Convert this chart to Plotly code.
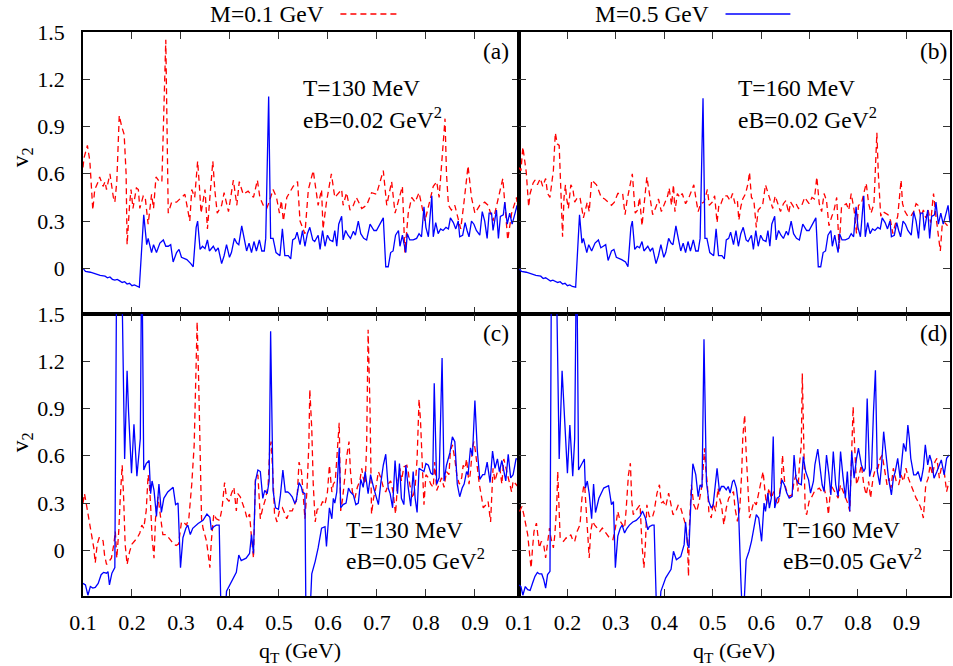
import plotly.graph_objects as go

# ---------------- data (qT in GeV, v2) ----------------
a_m01 = [(0.100,0.64),(0.102,0.70),(0.109,0.78),(0.114,0.68),(0.120,0.37),(0.124,0.50),(0.131,0.55),(0.134,0.58),(0.141,0.52),(0.145,0.55),(0.148,0.50),(0.155,0.60),(0.162,0.45),(0.165,0.42),(0.169,0.55),(0.174,0.97),(0.179,0.90),(0.184,0.85),(0.188,0.60),(0.190,0.15),(0.195,0.40),(0.198,0.50),(0.202,0.38),(0.205,0.45),(0.209,0.51),(0.213,0.50),(0.216,0.38),(0.223,0.46),(0.227,0.45),(0.233,0.28),(0.240,0.47),(0.244,0.38),(0.249,0.58),(0.256,0.55),(0.261,0.55),(0.269,1.45),(0.271,0.90),(0.274,0.35),(0.281,0.42),(0.291,0.42),(0.301,0.45),(0.308,0.47),(0.318,0.30),(0.322,0.50),(0.328,0.45),(0.334,0.68),(0.337,0.55),(0.341,0.35),(0.349,0.50),(0.354,0.25),(0.359,0.45),(0.365,0.68),(0.369,0.50),(0.374,0.35),(0.383,0.40),(0.388,0.48),(0.397,0.36),(0.407,0.56),(0.414,0.40),(0.419,0.55),(0.427,0.47),(0.437,0.49),(0.448,0.45),(0.456,0.56),(0.461,0.45),(0.468,0.40),(0.475,0.38),(0.480,0.42),(0.488,0.50),(0.495,0.45),(0.501,0.35),(0.505,0.43),(0.509,0.30),(0.516,0.45),(0.529,0.52),(0.538,0.55),(0.543,0.30),(0.553,0.22),(0.560,0.50),(0.570,0.62),(0.580,0.40),(0.587,0.50),(0.590,0.25),(0.597,0.42),(0.607,0.60),(0.614,0.45),(0.628,0.50),(0.631,0.40),(0.638,0.48),(0.645,0.37),(0.652,0.40),(0.658,0.45),(0.669,0.38),(0.679,0.40),(0.689,0.48),(0.699,0.47),(0.713,0.62),(0.720,0.40),(0.730,0.55),(0.737,0.35),(0.752,0.52),(0.757,0.10),(0.764,0.35),(0.771,0.45),(0.778,0.42),(0.786,0.48),(0.798,0.30),(0.815,0.52),(0.822,0.55),(0.827,0.45),(0.839,0.95),(0.842,0.60),(0.846,0.40),(0.852,0.37),(0.859,0.40),(0.871,0.25),(0.877,0.40),(0.886,0.65),(0.893,0.45),(0.900,0.35),(0.910,0.40),(0.920,0.42),(0.927,0.40),(0.937,0.30),(0.957,0.57),(0.961,0.40),(0.967,0.18),(0.975,0.35),(0.985,0.45),(0.991,0.30)]

a_m05 = [(0.100,0.0),(0.105,-0.02),(0.115,-0.025),(0.125,-0.035),(0.135,-0.045),(0.145,-0.05),(0.150,-0.06),(0.155,-0.055),(0.160,-0.07),(0.165,-0.075),(0.170,-0.07),(0.175,-0.08),(0.180,-0.09),(0.185,-0.085),(0.190,-0.10),(0.195,-0.095),(0.200,-0.11),(0.205,-0.105),(0.210,-0.115),(0.215,-0.12),(0.224,0.34),(0.230,0.15),(0.233,0.19),(0.240,0.10),(0.244,0.15),(0.250,0.10),(0.257,0.16),(0.264,0.18),(0.269,0.14),(0.274,0.14),(0.279,0.15),(0.284,0.04),(0.291,0.10),(0.296,0.12),(0.301,0.07),(0.312,0.055),(0.320,0.03),(0.325,0.01),(0.331,0.26),(0.334,0.30),(0.339,0.12),(0.344,0.14),(0.349,0.125),(0.354,0.18),(0.358,0.11),(0.366,0.14),(0.371,0.11),(0.376,0.13),(0.383,0.03),(0.388,0.08),(0.393,0.15),(0.399,0.07),(0.403,0.10),(0.409,0.19),(0.414,0.16),(0.418,0.15),(0.424,0.27),(0.427,0.22),(0.434,0.11),(0.439,0.16),(0.444,0.10),(0.449,0.17),(0.454,0.11),(0.460,0.18),(0.465,0.11),(0.470,0.11),(0.473,0.19),(0.479,1.09),(0.483,0.19),(0.488,0.19),(0.494,0.10),(0.502,0.08),(0.507,0.25),(0.512,0.08),(0.519,0.08),(0.524,0.06),(0.528,0.18),(0.533,0.19),(0.537,0.23),(0.543,0.15),(0.548,0.24),(0.553,0.14),(0.558,0.22),(0.563,0.26),(0.569,0.18),(0.573,0.17),(0.580,0.21),(0.584,0.12),(0.589,0.24),(0.594,0.14),(0.599,0.21),(0.604,0.18),(0.610,0.17),(0.614,0.24),(0.618,0.14),(0.622,0.28),(0.628,0.33),(0.631,0.18),(0.636,0.24),(0.641,0.21),(0.646,0.19),(0.652,0.235),(0.656,0.21),(0.662,0.30),(0.667,0.22),(0.673,0.19),(0.679,0.18),(0.686,0.28),(0.694,0.24),(0.699,0.24),(0.706,0.28),(0.713,0.32),(0.718,0.01),(0.723,0.01),(0.728,0.10),(0.733,0.11),(0.738,0.21),(0.744,0.24),(0.747,0.14),(0.752,0.21),(0.755,0.16),(0.759,0.10),(0.762,0.22),(0.767,0.18),(0.774,0.18),(0.781,0.19),(0.786,0.22),(0.791,0.20),(0.796,0.39),(0.800,0.26),(0.805,0.20),(0.812,0.46),(0.815,0.20),(0.820,0.29),(0.825,0.22),(0.830,0.25),(0.835,0.24),(0.841,0.26),(0.846,0.25),(0.850,0.32),(0.856,0.29),(0.861,0.25),(0.866,0.30),(0.869,0.20),(0.875,0.21),(0.880,0.29),(0.884,0.24),(0.888,0.20),(0.893,0.30),(0.898,0.28),(0.903,0.24),(0.910,0.21),(0.915,0.36),(0.920,0.30),(0.925,0.19),(0.929,0.35),(0.934,0.35),(0.937,0.24),(0.944,0.37),(0.948,0.19),(0.952,0.33),(0.958,0.34),(0.961,0.42),(0.966,0.28),(0.971,0.35),(0.976,0.28),(0.982,0.35),(0.986,0.40),(0.990,0.29)]

b_m01 = [(0.100,0.64),(0.104,0.62),(0.108,0.77),(0.111,0.70),(0.115,0.61),(0.120,0.39),(0.123,0.475),(0.129,0.54),(0.133,0.56),(0.138,0.53),(0.144,0.57),(0.149,0.52),(0.155,0.57),(0.159,0.475),(0.164,0.45),(0.168,0.55),(0.171,0.62),(0.175,0.86),(0.179,0.79),(0.183,0.78),(0.186,0.54),(0.188,0.37),(0.190,0.20),(0.193,0.45),(0.196,0.53),(0.198,0.45),(0.202,0.38),(0.207,0.53),(0.211,0.51),(0.215,0.42),(0.221,0.45),(0.226,0.45),(0.229,0.39),(0.233,0.32),(0.237,0.37),(0.241,0.42),(0.245,0.36),(0.250,0.56),(0.260,0.53),(0.270,0.45),(0.277,0.44),(0.291,0.40),(0.297,0.42),(0.304,0.475),(0.314,0.475),(0.319,0.34),(0.323,0.43),(0.328,0.50),(0.334,0.60),(0.336,0.52),(0.340,0.35),(0.345,0.37),(0.349,0.45),(0.354,0.27),(0.359,0.43),(0.364,0.58),(0.368,0.50),(0.373,0.39),(0.376,0.34),(0.383,0.39),(0.388,0.44),(0.394,0.36),(0.400,0.41),(0.407,0.46),(0.410,0.51),(0.415,0.40),(0.419,0.53),(0.422,0.36),(0.427,0.475),(0.432,0.45),(0.437,0.475),(0.444,0.41),(0.451,0.45),(0.457,0.50),(0.461,0.53),(0.466,0.43),(0.470,0.36),(0.475,0.41),(0.482,0.42),(0.489,0.50),(0.493,0.40),(0.499,0.42),(0.504,0.46),(0.509,0.29),(0.513,0.41),(0.517,0.41),(0.523,0.46),(0.530,0.46),(0.536,0.43),(0.541,0.475),(0.546,0.41),(0.551,0.43),(0.554,0.305),(0.558,0.39),(0.562,0.44),(0.568,0.475),(0.573,0.54),(0.576,0.61),(0.580,0.45),(0.585,0.43),(0.590,0.26),(0.594,0.37),(0.599,0.39),(0.603,0.40),(0.609,0.53),(0.614,0.475),(0.619,0.43),(0.624,0.38),(0.629,0.46),(0.635,0.41),(0.640,0.36),(0.646,0.41),(0.651,0.43),(0.657,0.35),(0.661,0.42),(0.667,0.39),(0.672,0.41),(0.677,0.38),(0.684,0.40),(0.690,0.45),(0.694,0.43),(0.699,0.41),(0.705,0.45),(0.710,0.44),(0.715,0.58),(0.720,0.41),(0.725,0.36),(0.730,0.475),(0.735,0.43),(0.740,0.27),(0.746,0.33),(0.750,0.36),(0.756,0.45),(0.761,0.125),(0.766,0.39),(0.771,0.40),(0.776,0.41),(0.781,0.37),(0.786,0.475),(0.792,0.37),(0.797,0.22),(0.801,0.40),(0.807,0.41),(0.812,0.475),(0.817,0.54),(0.822,0.41),(0.827,0.35),(0.833,0.41),(0.839,0.86),(0.842,0.60),(0.847,0.33),(0.851,0.36),(0.856,0.35),(0.862,0.34),(0.867,0.305),(0.872,0.22),(0.877,0.28),(0.882,0.33),(0.889,0.56),(0.892,0.41),(0.897,0.36),(0.903,0.33),(0.909,0.33),(0.915,0.36),(0.920,0.41),(0.924,0.40),(0.930,0.33),(0.935,0.37),(0.940,0.32),(0.945,0.37),(0.950,0.29),(0.956,0.475),(0.961,0.33),(0.965,0.22),(0.970,0.11),(0.974,0.28),(0.979,0.29),(0.985,0.27)]

b_m05 = [(0.100,0.0),(0.105,-0.02),(0.115,-0.025),(0.125,-0.035),(0.135,-0.045),(0.145,-0.05),(0.150,-0.065),(0.155,-0.06),(0.160,-0.07),(0.165,-0.08),(0.170,-0.075),(0.175,-0.085),(0.180,-0.09),(0.185,-0.085),(0.190,-0.10),(0.195,-0.095),(0.200,-0.11),(0.205,-0.105),(0.210,-0.115),(0.217,-0.12),(0.225,0.34),(0.230,0.16),(0.233,0.19),(0.240,0.10),(0.244,0.15),(0.250,0.11),(0.257,0.16),(0.264,0.18),(0.269,0.13),(0.274,0.14),(0.279,0.15),(0.284,0.05),(0.291,0.11),(0.296,0.12),(0.301,0.07),(0.312,0.055),(0.320,0.04),(0.325,0.01),(0.331,0.26),(0.334,0.30),(0.339,0.12),(0.344,0.14),(0.349,0.13),(0.354,0.17),(0.358,0.11),(0.366,0.14),(0.371,0.11),(0.376,0.13),(0.383,0.03),(0.388,0.08),(0.393,0.15),(0.399,0.07),(0.403,0.10),(0.409,0.19),(0.414,0.16),(0.418,0.15),(0.424,0.27),(0.427,0.22),(0.434,0.11),(0.439,0.16),(0.444,0.10),(0.449,0.17),(0.454,0.11),(0.460,0.18),(0.465,0.11),(0.470,0.11),(0.474,0.19),(0.480,1.08),(0.484,0.19),(0.488,0.19),(0.494,0.10),(0.502,0.08),(0.507,0.25),(0.512,0.08),(0.519,0.08),(0.524,0.06),(0.528,0.18),(0.533,0.19),(0.537,0.23),(0.543,0.15),(0.548,0.24),(0.553,0.14),(0.558,0.22),(0.563,0.26),(0.569,0.18),(0.573,0.17),(0.580,0.21),(0.584,0.12),(0.589,0.24),(0.594,0.14),(0.599,0.21),(0.604,0.18),(0.610,0.17),(0.614,0.24),(0.618,0.14),(0.622,0.28),(0.628,0.33),(0.631,0.18),(0.636,0.24),(0.641,0.21),(0.646,0.19),(0.652,0.235),(0.656,0.21),(0.662,0.30),(0.667,0.22),(0.673,0.19),(0.679,0.18),(0.686,0.28),(0.694,0.24),(0.699,0.24),(0.706,0.28),(0.713,0.32),(0.718,0.01),(0.723,0.01),(0.728,0.10),(0.733,0.11),(0.738,0.21),(0.744,0.24),(0.747,0.14),(0.752,0.21),(0.755,0.16),(0.759,0.10),(0.762,0.22),(0.767,0.18),(0.774,0.18),(0.781,0.19),(0.786,0.22),(0.791,0.20),(0.796,0.39),(0.800,0.26),(0.805,0.20),(0.812,0.46),(0.815,0.20),(0.820,0.29),(0.825,0.22),(0.830,0.25),(0.835,0.24),(0.841,0.26),(0.846,0.25),(0.850,0.32),(0.856,0.29),(0.861,0.25),(0.866,0.30),(0.869,0.20),(0.875,0.21),(0.880,0.29),(0.884,0.24),(0.888,0.20),(0.893,0.30),(0.898,0.28),(0.903,0.24),(0.910,0.21),(0.915,0.36),(0.920,0.30),(0.925,0.19),(0.929,0.35),(0.934,0.35),(0.937,0.24),(0.944,0.37),(0.948,0.19),(0.952,0.33),(0.958,0.34),(0.961,0.42),(0.966,0.28),(0.971,0.35),(0.976,0.28),(0.982,0.35),(0.986,0.40),(0.990,0.29)]

c_m01 = [(0.100,0.30),(0.103,0.36),(0.107,0.29),(0.110,0.23),(0.115,0.14),(0.119,0.08),(0.122,0.015),(0.125,-0.08),(0.129,0.04),(0.133,0.08),(0.137,0.08),(0.141,0.06),(0.144,-0.03),(0.148,-0.09),(0.153,-0.07),(0.158,-0.05),(0.163,0.04),(0.166,0.12),(0.169,-0.05),(0.173,0.12),(0.176,0.33),(0.180,0.54),(0.183,0.33),(0.186,0.04),(0.190,-0.09),(0.195,-0.01),(0.200,0.04),(0.205,0.06),(0.211,0.08),(0.216,0.11),(0.220,0.16),(0.224,0.14),(0.229,0.25),(0.233,0.48),(0.235,0.44),(0.238,0.29),(0.241,0.08),(0.245,-0.05),(0.248,0.20),(0.253,0.34),(0.258,0.20),(0.263,0.10),(0.270,0.10),(0.276,0.08),(0.280,0.06),(0.285,0.04),(0.290,0.03),(0.295,0.04),(0.301,0.18),(0.305,0.18),(0.311,0.16),(0.316,0.20),(0.319,0.29),(0.322,0.42),(0.327,0.67),(0.330,1.09),(0.333,1.45),(0.336,1.09),(0.338,0.77),(0.339,0.46),(0.342,0.20),(0.345,0.14),(0.348,0.11),(0.352,0.06),(0.355,-0.01),(0.359,-0.11),(0.362,0.06),(0.367,0.23),(0.372,0.20),(0.379,0.19),(0.384,0.27),(0.389,0.43),(0.393,0.33),(0.398,0.31),(0.403,0.36),(0.408,0.40),(0.413,0.25),(0.416,0.36),(0.421,0.34),(0.427,0.29),(0.431,0.25),(0.435,0.20),(0.440,0.23),(0.444,0.08),(0.448,-0.05),(0.452,0.46),(0.457,0.48),(0.462,0.20),(0.467,0.27),(0.473,0.33),(0.478,0.42),(0.481,0.63),(0.484,0.69),(0.488,0.46),(0.491,0.23),(0.496,0.18),(0.501,0.25),(0.507,0.27),(0.512,0.23),(0.516,0.20),(0.522,0.25),(0.527,0.25),(0.532,0.29),(0.537,0.33),(0.541,0.56),(0.546,0.50),(0.550,0.33),(0.553,0.20),(0.557,0.37),(0.561,0.67),(0.563,1.02),(0.567,0.77),(0.570,0.42),(0.574,0.18),(0.578,0.26),(0.584,0.27),(0.589,0.31),(0.594,0.29),(0.599,0.37),(0.603,0.54),(0.608,0.37),(0.611,0.42),(0.615,0.44),(0.619,0.60),(0.623,0.81),(0.626,0.25),(0.630,0.33),(0.635,0.48),(0.638,0.59),(0.643,0.69),(0.646,0.50),(0.650,0.37),(0.655,0.33),(0.660,0.40),(0.665,0.44),(0.669,0.52),(0.672,0.46),(0.676,0.42),(0.679,0.67),(0.682,1.40),(0.686,0.88),(0.689,0.23),(0.693,0.33),(0.698,0.40),(0.703,0.50),(0.708,0.46),(0.713,0.40),(0.718,0.37),(0.723,0.42),(0.728,0.44),(0.733,0.37),(0.738,0.23),(0.742,0.42),(0.747,0.52),(0.750,0.44),(0.755,0.53),(0.761,0.54),(0.764,0.50),(0.767,0.42),(0.773,0.33),(0.778,0.40),(0.782,0.58),(0.786,0.96),(0.789,0.82),(0.793,0.52),(0.796,0.29),(0.800,0.48),(0.805,0.46),(0.810,0.42),(0.815,0.40),(0.818,0.56),(0.822,0.38),(0.827,0.42),(0.832,0.46),(0.837,0.40),(0.842,0.50),(0.847,0.48),(0.850,0.63),(0.854,0.67),(0.859,0.58),(0.863,0.48),(0.868,0.42),(0.873,0.46),(0.876,0.54),(0.880,0.52),(0.883,0.58),(0.888,0.42),(0.891,0.50),(0.895,0.65),(0.898,0.69),(0.901,0.63),(0.905,0.52),(0.909,0.42),(0.914,0.33),(0.917,0.27),(0.923,0.29),(0.927,0.31),(0.932,0.18),(0.937,0.52),(0.941,0.44),(0.946,0.50),(0.951,0.52),(0.955,0.42),(0.959,0.58),(0.965,0.50),(0.970,0.42),(0.975,0.37),(0.978,0.44),(0.984,0.42),(0.989,0.40),(0.992,0.44)]

c_m05 = [(0.100,-0.21),(0.105,-0.22),(0.110,-0.285),(0.115,-0.23),(0.120,-0.24),(0.125,-0.235),(0.131,-0.21),(0.137,-0.155),(0.142,-0.14),(0.148,-0.145),(0.151,-0.135),(0.154,-0.22),(0.159,-0.145),(0.163,-0.12),(0.165,-0.11),(0.170,2.5),(0.176,2.4),(0.185,0.58),(0.190,1.14),(0.193,0.88),(0.199,0.49),(0.204,0.80),(0.210,0.47),(0.217,0.71),(0.220,2.0),(0.224,0.51),(0.229,0.55),(0.235,0.57),(0.238,0.36),(0.241,0.44),(0.245,0.38),(0.250,0.215),(0.255,0.42),(0.260,0.24),(0.265,0.33),(0.273,0.37),(0.284,0.40),(0.289,0.29),(0.294,0.30),(0.299,-0.11),(0.304,0.08),(0.310,0.14),(0.314,0.16),(0.319,0.10),(0.324,0.14),(0.335,0.17),(0.345,0.19),(0.353,0.23),(0.359,0.21),(0.362,0.13),(0.367,0.15),(0.372,0.16),(0.378,0.16),(0.381,-0.3),(0.386,-0.6),(0.393,-0.26),(0.403,-0.20),(0.413,-0.14),(0.418,-0.03),(0.423,-0.065),(0.433,-0.05),(0.440,-0.02),(0.444,0.10),(0.448,-0.02),(0.452,0.44),(0.457,0.51),(0.462,0.50),(0.467,0.33),(0.471,0.38),(0.476,0.36),(0.480,0.44),(0.483,1.39),(0.488,0.38),(0.493,0.27),(0.499,0.26),(0.503,0.35),(0.508,0.51),(0.513,0.37),(0.518,0.37),(0.522,0.36),(0.527,0.34),(0.532,0.30),(0.535,0.31),(0.541,0.43),(0.546,0.40),(0.548,0.37),(0.553,0.36),(0.555,-0.4),(0.562,-0.5),(0.567,-0.15),(0.574,-0.07),(0.580,0.015),(0.587,0.14),(0.594,0.15),(0.597,0.025),(0.603,0.27),(0.608,0.20),(0.611,0.33),(0.614,0.30),(0.618,0.37),(0.623,0.65),(0.626,0.27),(0.631,0.29),(0.637,0.30),(0.642,0.395),(0.646,0.37),(0.652,0.35),(0.657,0.29),(0.662,0.30),(0.667,0.45),(0.672,0.40),(0.676,0.50),(0.682,0.36),(0.687,0.48),(0.693,0.40),(0.698,0.34),(0.703,0.29),(0.708,0.43),(0.713,0.54),(0.718,0.61),(0.723,0.395),(0.727,0.36),(0.732,0.27),(0.737,0.57),(0.742,0.36),(0.746,0.55),(0.750,0.33),(0.755,0.29),(0.759,0.54),(0.764,0.395),(0.769,0.28),(0.774,0.50),(0.778,0.33),(0.782,0.24),(0.786,0.52),(0.791,0.51),(0.796,0.50),(0.800,0.55),(0.805,0.54),(0.810,0.49),(0.814,0.48),(0.817,1.06),(0.822,0.42),(0.827,0.46),(0.833,1.22),(0.837,0.44),(0.842,0.54),(0.849,0.62),(0.854,0.72),(0.859,0.69),(0.864,0.42),(0.869,0.34),(0.874,0.395),(0.878,0.42),(0.883,0.50),(0.886,0.48),(0.891,0.65),(0.895,0.60),(0.900,0.95),(0.905,0.63),(0.910,0.45),(0.916,0.48),(0.920,0.48),(0.925,0.56),(0.931,0.43),(0.936,0.63),(0.941,0.52),(0.946,0.58),(0.950,0.50),(0.955,0.57),(0.959,0.50),(0.963,0.44),(0.968,0.61),(0.973,0.46),(0.978,0.48),(0.984,0.58),(0.989,0.58),(0.992,0.54)]

d_m01 = [(0.101,0.247),(0.106,0.278),(0.110,0.226),(0.114,0.162),(0.118,0.099),(0.122,-0.027),(0.125,-0.112),(0.128,0.015),(0.131,0.12),(0.136,0.173),(0.139,0.099),(0.142,0.015),(0.146,0.057),(0.151,0.036),(0.155,-0.049),(0.159,0.036),(0.163,0.141),(0.166,0.078),(0.171,0.015),(0.174,0.099),(0.178,0.289),(0.180,0.50),(0.183,0.247),(0.185,0.078),(0.192,0.057),(0.197,0.078),(0.202,0.078),(0.207,0.099),(0.212,0.057),(0.215,0.057),(0.220,0.12),(0.226,0.162),(0.230,0.331),(0.234,0.416),(0.236,0.395),(0.239,0.247),(0.243,-0.006),(0.245,-0.049),(0.248,0.12),(0.252,0.184),(0.256,0.162),(0.261,0.141),(0.267,0.12),(0.272,0.141),(0.277,0.12),(0.282,0.099),(0.287,0.078),(0.294,0.068),(0.299,0.141),(0.304,0.247),(0.309,0.184),(0.314,0.162),(0.318,0.141),(0.321,0.247),(0.326,0.479),(0.330,0.553),(0.333,0.31),(0.336,0.226),(0.340,0.247),(0.345,0.268),(0.350,0.289),(0.354,0.036),(0.358,-0.112),(0.361,0.036),(0.364,0.289),(0.369,0.215),(0.375,0.205),(0.379,0.247),(0.385,0.363),(0.390,0.416),(0.394,0.30),(0.398,0.31),(0.403,0.278),(0.409,0.363),(0.414,0.289),(0.418,0.226),(0.424,0.247),(0.429,0.289),(0.434,0.268),(0.439,0.205),(0.444,0.162),(0.448,0.036),(0.450,-0.165),(0.452,0.162),(0.456,0.416),(0.461,0.289),(0.467,0.247),(0.472,0.31),(0.475,0.363),(0.478,0.416),(0.483,0.648),(0.485,0.542),(0.489,0.416),(0.492,0.247),(0.497,0.205),(0.501,0.30),(0.506,0.247),(0.511,0.395),(0.514,0.331),(0.518,0.289),(0.523,0.162),(0.528,0.268),(0.533,0.331),(0.539,0.352),(0.543,0.373),(0.546,0.268),(0.551,0.184),(0.556,0.268),(0.560,0.50),(0.562,0.711),(0.566,0.859),(0.569,0.627),(0.573,0.331),(0.576,0.205),(0.580,0.247),(0.585,0.31),(0.590,0.289),(0.595,0.363),(0.600,0.437),(0.604,0.50),(0.608,0.373),(0.611,0.289),(0.616,0.395),(0.621,0.331),(0.626,0.373),(0.631,0.289),(0.636,0.31),(0.642,0.458),(0.644,0.605),(0.649,0.416),(0.653,0.373),(0.658,0.342),(0.664,0.352),(0.668,0.437),(0.672,0.479),(0.676,0.373),(0.679,0.542),(0.683,0.669),(0.685,1.122),(0.688,0.669),(0.691,0.247),(0.694,0.226),(0.699,0.31),(0.705,0.342),(0.710,0.373),(0.715,0.384),(0.720,0.395),(0.725,0.373),(0.730,0.395),(0.735,0.331),(0.739,0.226),(0.744,0.416),(0.749,0.384),(0.754,0.363),(0.759,0.331),(0.764,0.416),(0.769,0.373),(0.774,0.331),(0.780,0.289),(0.783,0.247),(0.786,0.50),(0.790,0.911),(0.793,0.669),(0.797,0.416),(0.801,0.458),(0.807,0.542),(0.812,0.416),(0.817,0.352),(0.822,0.437),(0.826,0.331),(0.831,0.458),(0.836,0.521),(0.841,0.521),(0.846,0.584),(0.850,0.605),(0.855,0.50),(0.860,0.416),(0.864,0.458),(0.868,0.395),(0.873,0.521),(0.879,0.437),(0.884,0.416),(0.889,0.479),(0.894,0.437),(0.899,0.521),(0.904,0.458),(0.909,0.416),(0.915,0.373),(0.920,0.331),(0.924,0.31),(0.930,0.268),(0.935,0.205),(0.940,0.416),(0.945,0.458),(0.949,0.542),(0.954,0.479),(0.959,0.563),(0.963,0.584),(0.968,0.458),(0.972,0.521),(0.978,0.50),(0.983,0.373),(0.988,0.437)]

d_m05 = [(0.100,-0.22),(0.104,-0.23),(0.108,-0.285),(0.113,-0.23),(0.118,-0.25),(0.123,-0.255),(0.129,-0.20),(0.133,-0.165),(0.138,-0.14),(0.142,-0.15),(0.147,-0.15),(0.151,-0.185),(0.155,-0.24),(0.159,-0.154),(0.164,-0.133),(0.168,2.5),(0.174,2.4),(0.183,0.58),(0.189,1.14),(0.194,0.88),(0.200,0.49),(0.205,0.795),(0.211,0.47),(0.215,0.71),(0.219,2.0),(0.223,0.51),(0.229,0.55),(0.235,0.58),(0.237,0.395),(0.241,0.44),(0.245,0.36),(0.250,0.20),(0.254,0.42),(0.258,0.24),(0.265,0.33),(0.275,0.395),(0.285,0.41),(0.291,0.29),(0.295,0.31),(0.299,-0.11),(0.304,0.09),(0.309,0.14),(0.313,0.16),(0.318,0.11),(0.323,0.14),(0.328,0.16),(0.335,0.18),(0.342,0.19),(0.350,0.215),(0.355,0.25),(0.361,0.205),(0.366,0.13),(0.369,0.15),(0.375,0.16),(0.379,0.16),(0.381,-0.35),(0.386,-0.6),(0.393,-0.26),(0.403,-0.175),(0.414,-0.12),(0.419,-0.006),(0.425,-0.06),(0.434,-0.04),(0.441,0.036),(0.444,0.18),(0.448,0.036),(0.451,0.015),(0.455,0.31),(0.459,0.55),(0.465,0.48),(0.470,0.34),(0.474,0.416),(0.478,0.40),(0.482,1.34),(0.487,0.437),(0.492,0.31),(0.497,0.268),(0.501,0.289),(0.506,0.416),(0.509,0.52),(0.514,0.373),(0.518,0.405),(0.523,0.405),(0.528,0.384),(0.532,0.405),(0.536,0.363),(0.541,0.437),(0.544,0.447),(0.549,0.395),(0.553,0.289),(0.558,-0.175),(0.561,-0.4),(0.564,-0.4),(0.569,-0.06),(0.575,-0.006),(0.580,0.057),(0.585,0.141),(0.590,0.226),(0.595,0.205),(0.601,0.057),(0.606,0.30),(0.609,0.247),(0.614,0.363),(0.617,0.268),(0.621,0.331),(0.625,0.722),(0.628,0.268),(0.633,0.331),(0.638,0.342),(0.643,0.447),(0.648,0.416),(0.653,0.363),(0.658,0.331),(0.664,0.342),(0.668,0.605),(0.672,0.458),(0.677,0.426),(0.683,0.416),(0.687,0.595),(0.692,0.50),(0.698,0.447),(0.702,0.363),(0.708,0.437),(0.711,0.542),(0.717,0.643),(0.722,0.521),(0.726,0.416),(0.730,0.373),(0.735,0.605),(0.740,0.479),(0.744,0.352),(0.749,0.627),(0.754,0.416),(0.759,0.342),(0.764,0.627),(0.769,0.468),(0.774,0.331),(0.778,0.50),(0.783,0.247),(0.787,0.627),(0.792,0.458),(0.797,0.584),(0.801,0.648),(0.807,0.542),(0.812,0.50),(0.815,0.521),(0.819,0.964),(0.824,0.468),(0.828,0.521),(0.832,0.88),(0.836,1.143),(0.840,0.50),(0.845,0.416),(0.849,0.553),(0.853,0.753),(0.858,0.605),(0.863,0.458),(0.869,0.352),(0.873,0.458),(0.877,0.50),(0.882,0.584),(0.887,0.458),(0.890,0.542),(0.894,0.679),(0.899,0.627),(0.903,0.795),(0.906,0.711),(0.909,0.584),(0.915,0.479),(0.920,0.479),(0.924,0.50),(0.930,0.437),(0.935,0.521),(0.939,0.669),(0.944,0.542),(0.948,0.605),(0.952,0.563),(0.957,0.458),(0.963,0.50),(0.968,0.542),(0.972,0.574),(0.978,0.479),(0.983,0.584),(0.988,0.605)]

x_ticks = [0.1, 0.2, 0.3, 0.4, 0.5, 0.6, 0.7, 0.8, 0.9]
x_ticktext = ["0.1", "0.2", "0.3", "0.4", "0.5", "0.6", "0.7", "0.8", "0.9"]
y_ticks = [0.0, 0.3, 0.6, 0.9, 1.2, 1.5]
y_ticktext = ["0", "0.3", "0.6", "0.9", "1.2", "1.5"]
x_range = [0.1, 0.99]
y_range = [-0.29, 1.5]

panel_labels = ["(a)", "(b)", "(c)", "(d)"]
temps = ["T=130 MeV", "T=160 MeV", "T=130 MeV", "T=160 MeV"]
fields = ["eB=0.02 GeV<sup>2</sup>", "eB=0.02 GeV<sup>2</sup>",
          "eB=0.05 GeV<sup>2</sup>", "eB=0.05 GeV<sup>2</sup>"]
series_names = ["M=0.1 GeV", "M=0.5 GeV"]

# ---------------- figure ----------------
W, H = 953, 666
ML, MR, MT, MB = 83, 1, 32, 70
PW, PH = W - ML - MR, H - MT - MB
SPLIT = (520 - ML) / PW

def px(X):
    return (X - ML) / PW

def py(Y):
    return (H - MB - Y) / PH

FONT = "Liberation Serif"
RED = "#ff0000"
BLUE = "#0000ff"
TXT = 23.5

fig = go.Figure()
panels = [(a_m01, a_m05), (b_m01, b_m05), (c_m01, c_m05), (d_m01, d_m05)]
for i, (red, blue) in enumerate(panels):
    suffix = "" if i == 0 else str(i + 1)
    for pts, col, dash in ((red, RED, "6px,4px"), (blue, BLUE, "solid")):
        q = [p[0] for p in pts]
        v = [p[1] for p in pts]
        fig.add_trace(go.Scatter(x=q, y=v, mode="lines", xaxis="x" + suffix, yaxis="y" + suffix,
                                 line=dict(color=col, width=1.3, dash=dash), showlegend=False,
                                 hoverinfo="skip"))

axis_common = dict(showline=True, linecolor="black", linewidth=1.5, mirror="allticks",
                   ticks="inside", ticklen=7, tickwidth=1, tickcolor="#333",
                   showgrid=False, zeroline=False)
layout = dict(width=W, height=H, margin=dict(l=ML, r=MR, t=MT, b=MB),
              paper_bgcolor="white", plot_bgcolor="white",
              font=dict(family=FONT, size=22, color="black"), showlegend=False)
doms_x = [[0, SPLIT], [SPLIT, 1], [0, SPLIT], [SPLIT, 1]]
doms_y = [[0.5, 1], [0.5, 1], [0, 0.5], [0, 0.5]]
for i in range(4):
    suffix = "" if i == 0 else str(i + 1)
    layout["xaxis" + suffix] = dict(axis_common, domain=doms_x[i], range=x_range,
                                    anchor="y" + suffix, tickvals=x_ticks, ticktext=x_ticktext,
                                    showticklabels=(i >= 2), ticklabelstandoff=6)
    layout["yaxis" + suffix] = dict(axis_common, domain=doms_y[i], range=y_range,
                                    anchor="x" + suffix, tickvals=y_ticks, ticktext=y_ticktext,
                                    showticklabels=(i % 2 == 0), ticklabelstandoff=12)
fig.update_layout(**layout)

ann = []
lab_pos = [(497, 51), (935, 51), (497, 333), (935, 333)]
txt_pos = [(302, 88, 118), (738, 88, 118), (345, 530, 559), (783, 530, 559)]
tf = dict(family=FONT, size=TXT, color="black")
for i in range(4):
    ann.append(dict(text=panel_labels[i], x=px(lab_pos[i][0]), y=py(lab_pos[i][1]), font=tf,
                    xref="paper", yref="paper", xanchor="center", yanchor="middle", showarrow=False))
    ann.append(dict(text=temps[i], x=px(txt_pos[i][0]), y=py(txt_pos[i][1]), font=tf,
                    xref="paper", yref="paper", xanchor="left", yanchor="middle", showarrow=False))
    ann.append(dict(text=fields[i], x=px(txt_pos[i][0]), y=py(txt_pos[i][2]), font=tf,
                    xref="paper", yref="paper", xanchor="left", yanchor="middle", showarrow=False))
for yc in (157, 442):
    ann.append(dict(text="v<sub>2</sub>", x=px(22), y=py(yc), xref="paper", yref="paper", font=tf,
                    textangle=-90, xanchor="center", yanchor="middle", showarrow=False))
for xc in (301, 736):
    ann.append(dict(text="q<sub>T</sub> (GeV)", x=px(xc), y=py(652), xref="paper", yref="paper",
                    font=dict(family=FONT, size=22, color="black"),
                    xanchor="center", yanchor="middle", showarrow=False))
# key (text followed by line sample, gnuplot style)
ann.append(dict(text=series_names[0], x=px(327), y=py(14), xref="paper", yref="paper", font=tf,
                xanchor="right", yanchor="middle", showarrow=False))
ann.append(dict(text=series_names[1], x=px(712), y=py(14), xref="paper", yref="paper", font=tf,
                xanchor="right", yanchor="middle", showarrow=False))
shapes = [
    dict(type="line", xref="paper", yref="paper", x0=px(341), x1=px(401), y0=py(14), y1=py(14),
         line=dict(color=RED, width=1.3, dash="6px,4px")),
    dict(type="line", xref="paper", yref="paper", x0=px(727), x1=px(792), y0=py(14), y1=py(14),
         line=dict(color=BLUE, width=1.3)),
]
fig.update_layout(annotations=ann, shapes=shapes)
fig.write_html("out.html")
